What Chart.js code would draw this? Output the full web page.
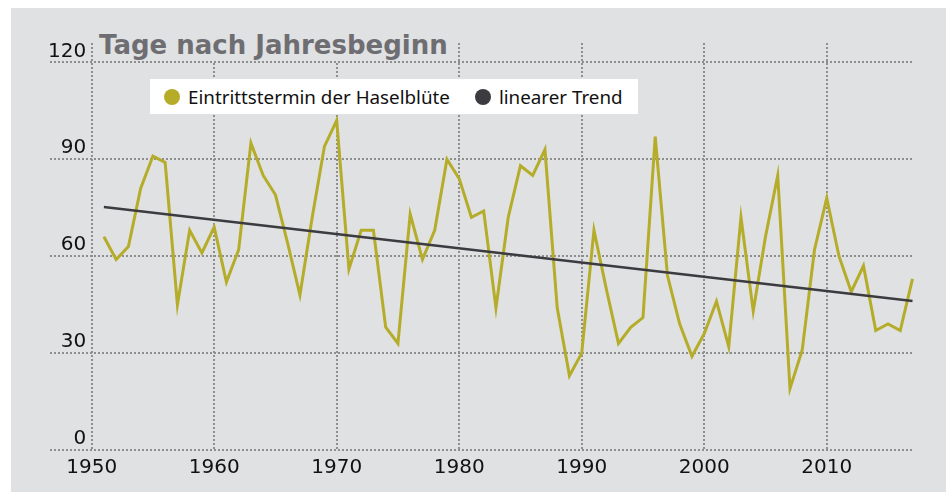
<!DOCTYPE html>
<html lang="de">
<head>
<meta charset="utf-8">
<title>Haselblüte</title>
<script src="https://cdn.jsdelivr.net/npm/chart.js@4/dist/chart.umd.min.js"></script>
<style>
  html, body { margin: 0; padding: 0; background: #fff; }
  #wrap { position: relative; width: 952px; height: 492px; }
  #panel { position: absolute; left: 11px; top: 8px; width: 935px; height: 484px; background: #e0e1e3; }
  #chart { position: absolute; left: 0; top: 0; }
  #titel {
    position: absolute; left: 95px; top: 30px; height: 31px; line-height: 30px;
    padding: 0 4px; background: #e0e1e3; color: #6e6e72;
    font: bold 26px "DejaVu Sans", sans-serif; white-space: nowrap;
  }
  #legende {
    position: absolute; left: 150px; top: 79px; width: 488px; height: 35px;
    background: #fff; display: flex; align-items: center;
    font: 18.8px "Noto Sans", sans-serif; color: #111; white-space: nowrap;
  }
  #legende .item { display: flex; align-items: center; }
  #legende .punkt { width: 16px; height: 16px; border-radius: 50%; margin: 0 8px 0 0; }
</style>
</head>
<body>
<div id="wrap">
  <div id="panel"></div>
  <canvas id="chart" width="952" height="492"></canvas>
  <div id="titel">Tage nach Jahresbeginn</div>
  <div id="legende"></div>
</div>
<script>
// Jahre und Eintrittstermin (Tage nach Jahresbeginn)
var jahre = [1951, 1952, 1953, 1954, 1955, 1956, 1957, 1958, 1959, 1960,
             1961, 1962, 1963, 1964, 1965, 1966, 1967, 1968, 1969, 1970,
             1971, 1972, 1973, 1974, 1975, 1976, 1977, 1978, 1979, 1980,
             1981, 1982, 1983, 1984, 1985, 1986, 1987, 1988, 1989, 1990,
             1991, 1992, 1993, 1994, 1995, 1996, 1997, 1998, 1999, 2000,
             2001, 2002, 2003, 2004, 2005, 2006, 2007, 2008, 2009, 2010,
             2011, 2012, 2013, 2014, 2015, 2016, 2017];
var tage = [66, 59, 63, 81, 91, 89, 45, 68, 61, 69,
            52, 62, 95, 85, 79, 64, 48, 72, 94, 102,
            56, 68, 68, 38, 33, 73, 59, 68, 90, 84,
            72, 74, 44, 72, 88, 85, 93, 44, 23, 30,
            68, 50, 33, 38, 41, 97, 54, 39, 29, 36,
            46, 32, 72, 43, 66, 85, 19, 31, 62, 78,
            60, 49, 57, 37, 39, 37, 53];

// linearer Trend: Anfangs- und Endpunkt
var trendJahre = [1951, 2017];
var trendTage = [75.2, 46.1];

var yTicks = [0, 30, 60, 90, 120];
var xTicks = [1950, 1960, 1970, 1980, 1990, 2000, 2010];

var oliv = '#b5ac29';
var dunkel = '#3b3b40';
var raster = '#8e8e8e';

function punkte(xs, ys) {
  return xs.map(function (x, i) { return { x: x, y: ys[i] }; });
}

var config = {
  type: 'line',
  data: {
    datasets: [{
      label: 'Eintrittstermin der Haselblüte',
      data: punkte(jahre, tage),
      borderColor: oliv,
      backgroundColor: oliv,
      borderWidth: 3,
      pointRadius: 0,
      tension: 0,
      order: 2
    }, {
      label: 'linearer Trend',
      data: punkte(trendJahre, trendTage),
      borderColor: dunkel,
      backgroundColor: dunkel,
      borderWidth: 2.5,
      pointRadius: 0,
      order: 1
    }]
  },
  options: {
    responsive: false,
    animation: false,
    clip: false,
    layout: { padding: { left: 50, top: 43, right: 39.5, bottom: 0 } },
    plugins: { legend: { display: false }, tooltip: { enabled: false } },
    scales: {
      x: {
        type: 'linear',
        min: 1946.6,
        max: 2017,
        afterBuildTicks: function (s) { s.ticks = xTicks.map(function (v) { return { value: v }; }); },
        afterFit: function (s) { s.height = 42; s.paddingLeft = 0; s.paddingRight = 0; },
        grid: { color: raster, lineWidth: 2, drawTicks: false },
        border: { display: false, dash: [2, 2] },
        ticks: {
          padding: 6,
          color: '#111',
          font: { family: 'DejaVu Sans', size: 20 },
          callback: function (v) { return String(v); }
        }
      },
      y: {
        min: 0,
        max: 126,
        afterBuildTicks: function (s) { s.ticks = yTicks.map(function (v) { return { value: v }; }); },
        afterFit: function (s) { s.width = 0; },
        grid: { color: raster, lineWidth: 2, drawTicks: false },
        border: { display: false, dash: [2, 2] },
        ticks: {
          mirror: true,
          crossAlign: 'far',
          padding: -2,
          labelOffset: -11,
          color: '#111',
          font: { family: 'DejaVu Sans', size: 20 }
        }
      }
    }
  }
};

var chart = new Chart(document.getElementById('chart'), config);

// Legende aus den Datensätzen aufbauen
var legende = document.getElementById('legende');
chart.data.datasets.forEach(function (ds, i) {
  var item = document.createElement('span');
  item.className = 'item';
  item.style.marginLeft = i === 0 ? '14px' : '25px';
  var punkt = document.createElement('span');
  punkt.className = 'punkt';
  punkt.style.background = ds.borderColor;
  item.appendChild(punkt);
  item.appendChild(document.createTextNode(ds.label));
  legende.appendChild(item);
});
</script>
</body>
</html>
